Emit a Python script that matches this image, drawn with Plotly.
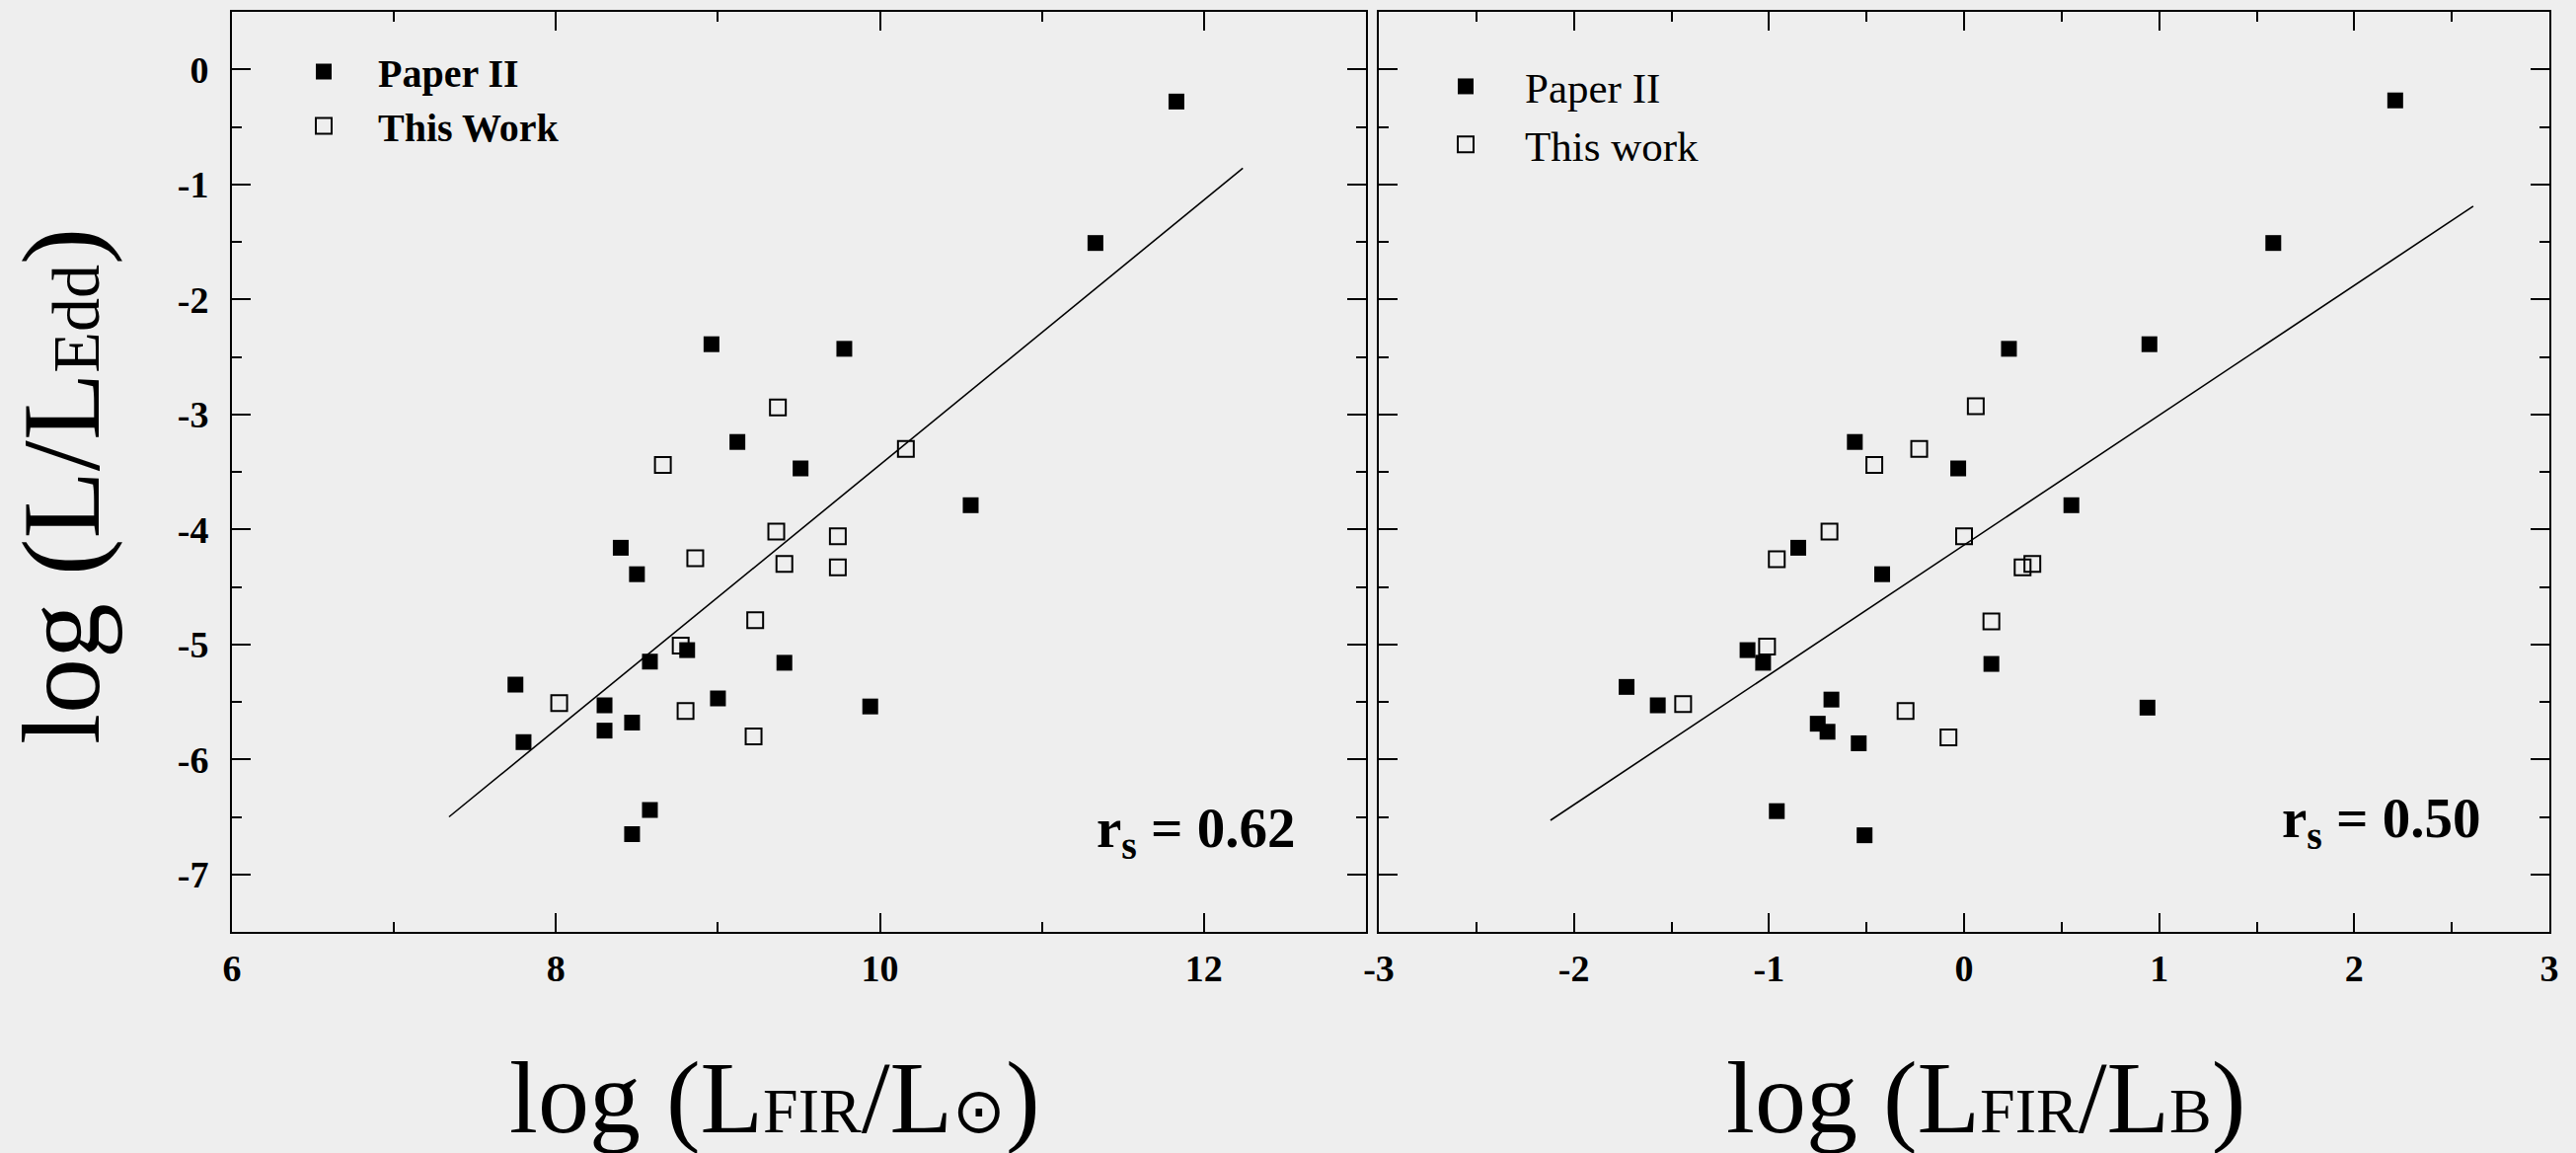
import plotly.graph_objects as go

# ---------------- data ----------------
# Left panel: log(L_FIR/L_sun) vs log(L/L_Edd)
paper2_lfir = [11.83, 11.33, 8.96, 9.78, 9.12, 9.51, 10.56, 8.40, 8.50, 8.81, 8.58,
               9.41, 7.75, 8.30, 9.00, 9.94, 8.47, 8.30, 7.80, 8.58, 8.47]
paper2_ledd_left = [-0.28, -1.51, -2.39, -2.43, -3.24, -3.47, -3.79, -4.16, -4.39, -5.05, -5.15,
                    -5.16, -5.35, -5.53, -5.47, -5.54, -5.68, -5.75, -5.85, -6.44, -6.65]
thiswork_lfir = [9.37, 10.16, 8.66, 9.36, 9.74, 8.86, 9.41, 9.74, 9.23, 8.77, 8.02, 8.80, 9.22]
thiswork_ledd_left = [-2.94, -3.30, -3.44, -4.02, -4.06, -4.25, -4.30, -4.33, -4.79, -5.01,
                      -5.51, -5.58, -5.80]
fit_left_x = [7.34, 12.24]
fit_left_y = [-6.50, -0.86]

# Right panel: log(L_FIR/L_B) vs log(L/L_Edd)
paper2_lfirlb = [2.21, 1.585, 0.23, 0.95, -0.56, -0.03, 0.55, -0.85, -0.42, -1.11, -1.03,
                 0.14, -1.73, -1.57, -0.68, 0.94, -0.75, -0.70, -0.54, -0.96, -0.51]
paper2_ledd_right = [-0.27, -1.51, -2.43, -2.39, -3.24, -3.47, -3.79, -4.16, -4.39, -5.05, -5.16,
                     -5.17, -5.37, -5.53, -5.48, -5.55, -5.69, -5.76, -5.86, -6.45, -6.66]
thiswork_lfirlb = [0.06, -0.23, -0.46, -0.69, 0.00, -0.96, 0.30, 0.35, 0.14, -1.01, -1.44,
                   -0.30, -0.08]
thiswork_ledd_right = [-2.93, -3.30, -3.44, -4.02, -4.06, -4.26, -4.33, -4.30, -4.80, -5.02,
                       -5.52, -5.58, -5.81]
fit_right_x = [-2.12, 2.61]
fit_right_y = [-6.53, -1.19]

rs_left = "0.62"
rs_right = "0.50"

# tick values / labels (hyphen minus as in the original)
y_tickvals = [0, -1, -2, -3, -4, -5, -6, -7]
y_ticktext = ["0", "-1", "-2", "-3", "-4", "-5", "-6", "-7"]
x1_tickvals = [6, 8, 10, 12]
x1_ticktext = ["6", "8", "10", "12"]
x2_tickvals = [-3, -2, -1, 0, 1, 2, 3]
x2_ticktext = ["-3", "-2", "-1", "0", "1", "2", "3"]

# ---------------- styling ----------------
W, H = 2610, 1168
BG = "#eeeeee"
SERIF = "Liberation Serif, Times New Roman, serif"
MS = 16

fig = go.Figure()

fig.add_trace(go.Scatter(x=paper2_lfir, y=paper2_ledd_left, mode="markers", name="Paper II",
                         marker=dict(symbol="square", size=MS, color="black"),
                         xaxis="x", yaxis="y", legend="legend"))
fig.add_trace(go.Scatter(x=thiswork_lfir, y=thiswork_ledd_left, mode="markers", name="This Work",
                         marker=dict(symbol="square-open", size=MS, color="black",
                                     line=dict(width=2, color="black")),
                         xaxis="x", yaxis="y", legend="legend"))
fig.add_trace(go.Scatter(x=fit_left_x, y=fit_left_y, mode="lines", showlegend=False,
                         line=dict(color="black", width=1.6), xaxis="x", yaxis="y"))

fig.add_trace(go.Scatter(x=paper2_lfirlb, y=paper2_ledd_right, mode="markers", name="Paper II",
                         marker=dict(symbol="square", size=MS, color="black"),
                         xaxis="x2", yaxis="y2", legend="legend2"))
fig.add_trace(go.Scatter(x=thiswork_lfirlb, y=thiswork_ledd_right, mode="markers", name="This work",
                         marker=dict(symbol="square-open", size=MS, color="black",
                                     line=dict(width=2, color="black")),
                         xaxis="x2", yaxis="y2", legend="legend2"))
fig.add_trace(go.Scatter(x=fit_right_x, y=fit_right_y, mode="lines", showlegend=False,
                         line=dict(color="black", width=1.6), xaxis="x2", yaxis="y2"))

tickfont = dict(family=SERIF, size=38, color="black", weight="bold")

def axis_common(**kw):
    d = dict(showline=True, linecolor="black", linewidth=2, mirror="allticks",
             ticks="inside", ticklen=19, tickwidth=2, tickcolor="black",
             showgrid=False, zeroline=False, tickfont=tickfont, automargin=False,
             minor=dict(ticks="inside", ticklen=10, tickwidth=2, tickcolor="black", showgrid=False))
    d.update(kw)
    return d

xl0, xl1 = 235 / W, 1384 / W
xr0, xr1 = 1397 / W, 2583 / W
y0, y1 = 1 - 944 / H, 1 - 12 / H

fig.update_layout(
    width=W, height=H, margin=dict(l=0, r=0, t=0, b=0, autoexpand=False),
    paper_bgcolor=BG, plot_bgcolor=BG,
    xaxis=axis_common(domain=[xl0, xl1], range=[6, 13], tickvals=x1_tickvals, ticktext=x1_ticktext,
                      minor_dtick=1, minor_tick0=0, anchor="y", ticklabelstandoff=2),
    yaxis=axis_common(domain=[y0, y1], range=[-7.5, 0.5], tickvals=y_tickvals, ticktext=y_ticktext,
                      minor_dtick=0.5, minor_tick0=0, anchor="x", ticklabelstandoff=14),
    xaxis2=axis_common(domain=[xr0, xr1], range=[-3, 3], tickvals=x2_tickvals, ticktext=x2_ticktext,
                       minor_dtick=0.5, minor_tick0=0, anchor="y2", ticklabelstandoff=2),
    yaxis2=axis_common(domain=[y0, y1], range=[-7.5, 0.5], tickvals=y_tickvals, ticktext=y_ticktext,
                       minor_dtick=0.5, minor_tick0=0, anchor="x2", showticklabels=False),
    legend=dict(x=273 / W, y=1 - 40 / H, xanchor="left", yanchor="top",
                font=dict(family=SERIF, size=40, color="black", weight="bold"),
                bgcolor="rgba(0,0,0,0)", itemwidth=100, tracegroupgap=0),
    legend2=dict(x=1425 / W, y=1 - 53 / H, xanchor="left", yanchor="top",
                 font=dict(family=SERIF, size=43, color="black"),
                 bgcolor="rgba(0,0,0,0)", itemwidth=110, tracegroupgap=0),
    showlegend=True,
)

small = "font-size:64px"
title_font = dict(family=SERIF, size=104, color="black")
yt_small = "font-size:68px"
fig.add_annotation(text=f"log (L/L<span style='{yt_small}'>Edd</span>)", textangle=-90,
                   xref="paper", yref="paper", x=62 / W, y=1 - 493 / H,
                   xanchor="center", yanchor="middle", showarrow=False,
                   font=dict(family=SERIF, size=112, color="black"))
fig.add_annotation(text=f"log (L<span style='{small}'>FIR</span>/L<span style='{small}'>⊙</span>)",
                   xref="paper", yref="paper", x=785 / W, y=1 - 1112 / H,
                   xanchor="center", yanchor="middle", showarrow=False, font=title_font)
fig.add_annotation(text=f"log (L<span style='{small}'>FIR</span>/L<span style='{small}'>B</span>)",
                   xref="paper", yref="paper", x=2012 / W, y=1 - 1112 / H,
                   xanchor="center", yanchor="middle", showarrow=False, font=title_font)

rs_font = dict(family=SERIF, size=57, color="black", weight="bold")
fig.add_annotation(text=f"r<sub>s</sub> = {rs_left}", xref="x", yref="y", x=11.95, y=-6.63,
                   xanchor="center", yanchor="middle", showarrow=False, font=rs_font)
fig.add_annotation(text=f"r<sub>s</sub> = {rs_right}", xref="x2", yref="y2", x=2.14, y=-6.55,
                   xanchor="center", yanchor="middle", showarrow=False, font=rs_font)

fig.write_html("out.html")
